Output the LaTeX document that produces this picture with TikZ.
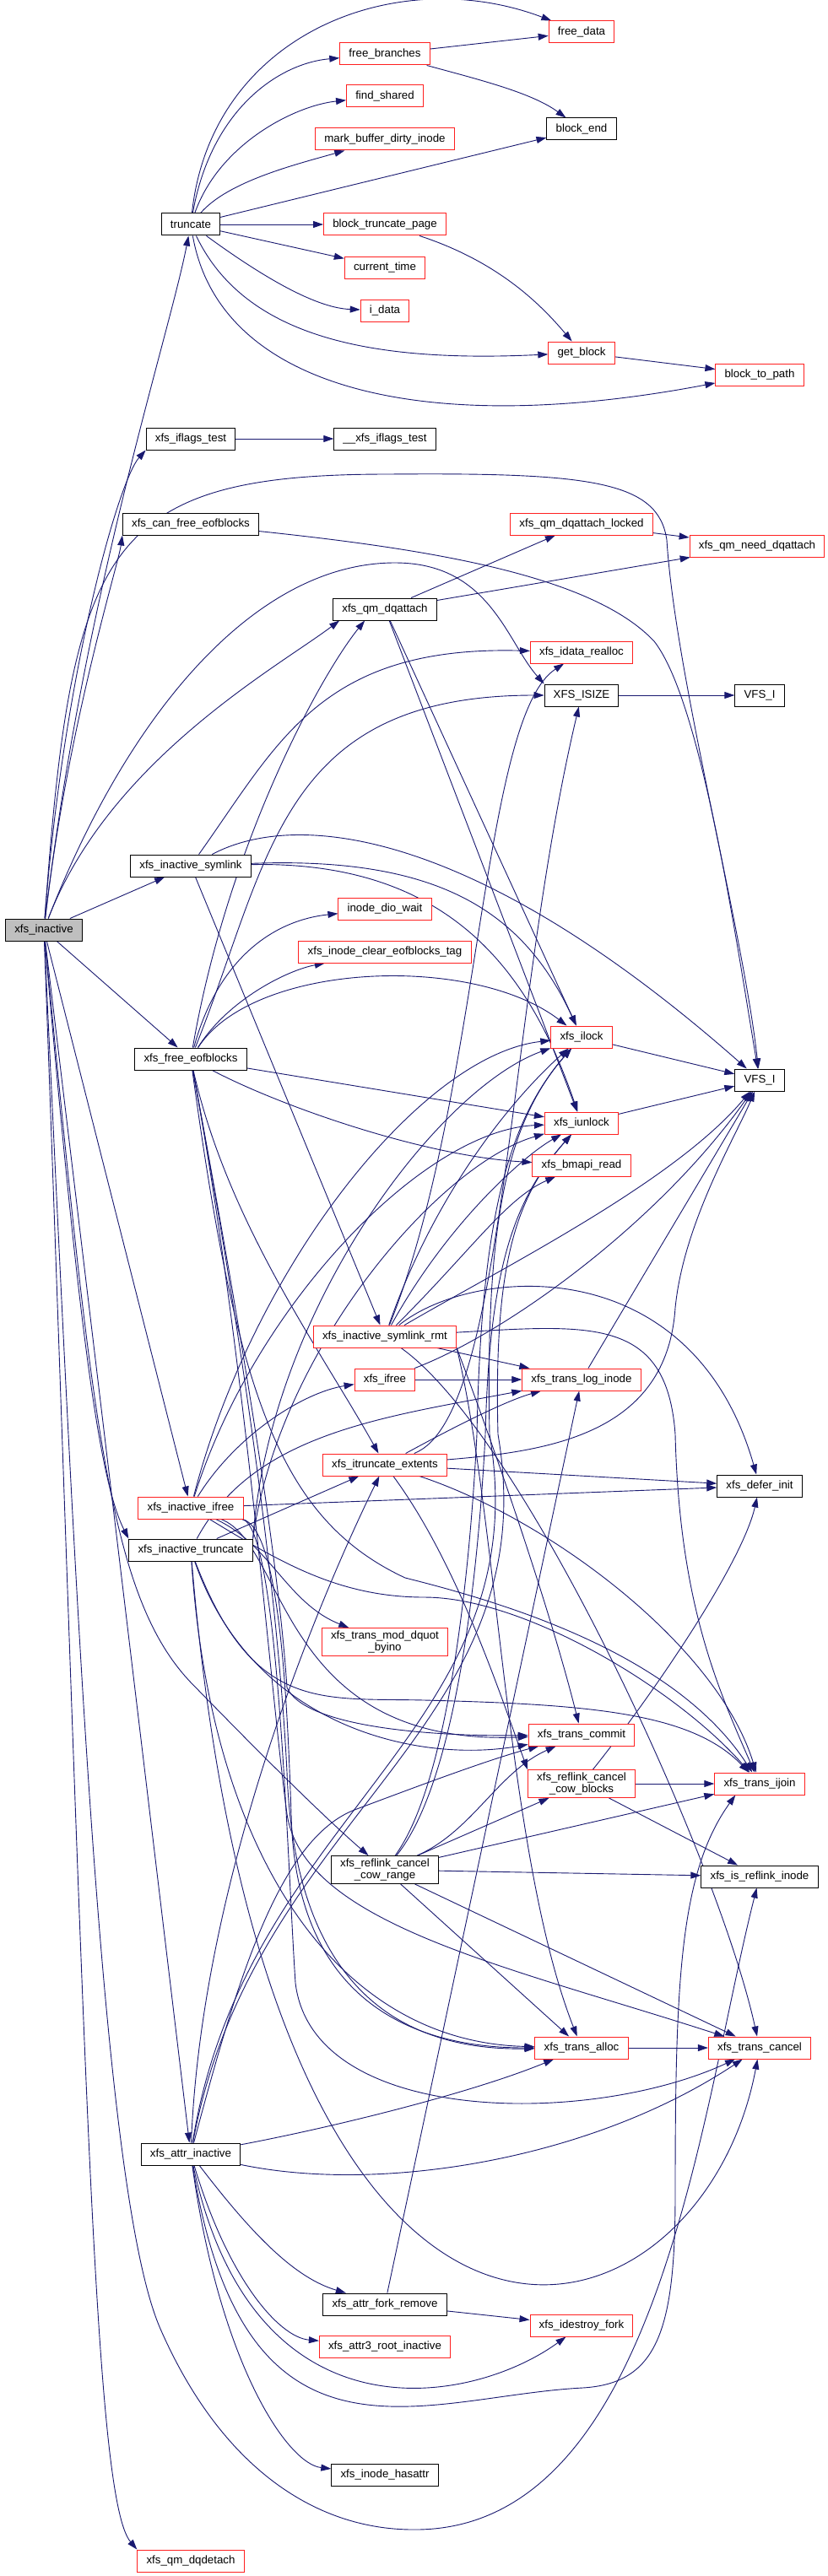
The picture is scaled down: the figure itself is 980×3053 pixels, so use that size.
\documentclass[tikz,border=0pt]{standalone}
\usepackage{fontspec}
\setmainfont{Liberation Sans}
\usetikzlibrary{arrows.meta}
\definecolor{doxEdge}{RGB}{25,25,112}
\definecolor{doxRed}{RGB}{255,32,32}
\definecolor{doxGray}{RGB}{191,191,191}
\pgfdeclarelayer{background}
\pgfsetlayers{background,main}

\begin{document}
\begin{tikzpicture}[
  x=1pt, y=-1pt,
  fn/.style={
    draw=black,
    fill=white,
    line width=1pt,
    rectangle,
    inner xsep=10.7pt,
    inner ysep=3pt,
    minimum height=26pt,
    align=center,
    font=\fontsize{13.3}{14.5}\selectfont
  },
  fnred/.style={fn,draw=doxRed},
  fnroot/.style={fn,fill=doxGray},
  call/.style={doxEdge,line width=0.9pt,-{Triangle[length=12pt,width=8pt]}}
]
  \useasboundingbox (0,0) rectangle (980,3053);

  % functions, column by column
  \node[fnroot] (inact) at (52,1102) {xfs\_inactive};

  \node[fn] (trunc) at (226,266) {truncate};
  \node[fn] (iflags) at (226,520) {xfs\_iflags\_test};
  \node[fn] (canfree) at (226,621) {xfs\_can\_free\_eofblocks};
  \node[fn] (symlink) at (226,1026) {xfs\_inactive\_symlink};
  \node[fn] (freeeof) at (226,1255) {xfs\_free\_eofblocks};
  \node[fnred] (inifree) at (226,1787) {xfs\_inactive\_ifree};
  \node[fn] (intrunc) at (226,1837) {xfs\_inactive\_truncate};
  \node[fn] (attrinact) at (226,2553) {xfs\_attr\_inactive};
  \node[fnred] (dqdetach) at (226,3035) {xfs\_qm\_dqdetach};

  \node[fnred] (freebr) at (456,64) {free\_branches};
  \node[fnred] (findsh) at (456,114) {find\_shared};
  \node[fnred] (markbuf) at (456,165) {mark\_buffer\_dirty\_inode};
  \node[fnred] (btpage) at (456,266) {block\_truncate\_page};
  \node[fnred] (curtime) at (456,317) {current\_time};
  \node[fnred] (idata) at (456,368) {i\_data};
  \node[fn] (uiflags) at (456,520) {\_\_xfs\_iflags\_test};
  \node[fn] (dqattach) at (456,722) {xfs\_qm\_dqattach};
  \node[fnred] (diowait) at (456,1077) {inode\_dio\_wait};
  \node[fnred] (cleartag) at (456,1128) {xfs\_inode\_clear\_eofblocks\_tag};
  \node[fnred] (rmt) at (456,1584) {xfs\_inactive\_symlink\_rmt};
  \node[fnred] (ifree) at (456,1635) {xfs\_ifree};
  \node[fnred] (itrunc) at (456,1736) {xfs\_itruncate\_extents};
  \node[fnred] (moddquot) at (456,1946) {xfs\_trans\_mod\_dquot\\\_byino};
  \node[fn] (cowrange) at (456,2216) {xfs\_reflink\_cancel\\\_cow\_range};
  \node[fn] (forkremove) at (456,2731) {xfs\_attr\_fork\_remove};
  \node[fnred] (rootinact) at (456,2781) {xfs\_attr3\_root\_inactive};
  \node[fn] (hasattr) at (456,2933) {xfs\_inode\_hasattr};

  \node[fnred] (freedata) at (689,38) {free\_data};
  \node[fn] (blockend) at (689,153) {block\_end};
  \node[fnred] (getblock) at (689,418) {get\_block};
  \node[fnred] (dqlocked) at (689,621) {xfs\_qm\_dqattach\_locked};
  \node[fnred] (idatarealloc) at (689,773) {xfs\_idata\_realloc};
  \node[fn] (isize) at (689,824) {XFS\_ISIZE};
  \node[fnred] (ilock) at (689,1229) {xfs\_ilock};
  \node[fnred] (iunlock) at (689,1331) {xfs\_iunlock};
  \node[fnred] (bmapi) at (689,1381) {xfs\_bmapi\_read};
  \node[fnred] (tlog) at (689,1635) {xfs\_trans\_log\_inode};
  \node[fnred] (tcommit) at (689,2056) {xfs\_trans\_commit};
  \node[fnred] (cowblocks) at (689,2114) {xfs\_reflink\_cancel\\\_cow\_blocks};
  \node[fnred] (talloc) at (689,2427) {xfs\_trans\_alloc};
  \node[fnred] (idestroy) at (689,2756) {xfs\_idestroy\_fork};

  \node[fnred] (btpath) at (900,444) {block\_to\_path};
  \node[fnred] (needdq) at (897,647) {xfs\_qm\_need\_dqattach};
  \node[fn] (vfsa) at (900,824) {VFS\_I};
  \node[fn] (vfsb) at (900,1280) {VFS\_I};
  \node[fn] (deferinit) at (900,1761) {xfs\_defer\_init};
  \node[fnred] (tijoin) at (900,2114) {xfs\_trans\_ijoin};
  \node[fn] (isreflink) at (900,2224) {xfs\_is\_reflink\_inode};
  \node[fnred] (tcancel) at (900,2427) {xfs\_trans\_cancel};

  \begin{pgfonlayer}{background}
  \fill[white] (0,0) rectangle (980,3053);
  % xfs_inactive
  \draw[call] (inact) .. controls (100,700) and (200,400) .. (trunc);
  \draw[call] (inact) .. controls (75,800) and (140,570) .. (iflags.south west);
  \draw[call] (inact) .. controls (80,860) and (140,670) .. (canfree.south west);
  \draw[call] (inact) .. controls (85,650) and (120,562) .. (460,562) .. controls (700,560) and (780,570) .. (790,640) .. controls (800,800) and (880,1100) .. (vfsb);
  \draw[call] (inact) .. controls (150,850) and (300,667) .. (468,667) .. controls (580,667) and (600,760) .. (isize.north west);
  \draw[call] (inact) .. controls (130,900) and (330,790) .. ([xshift=8pt]dqattach.south west);
  \draw[call] (inact) -- (symlink);
  \draw[call] (inact) -- (freeeof);
  \draw[call] (inact) -- (inifree);
  \draw[call] (inact) .. controls (95,1600) and (120,1760) .. (intrunc.north west);
  \draw[call] (inact) .. controls (110,1700) and (130,1900) .. (232,2000) .. controls (300,2070) and (380,2150) .. (cowrange);
  \draw[call] (inact) .. controls (90,1900) and (120,2600) .. (190,2760) .. controls (260,2920) and (370,2998) .. (490,2998) .. controls (780,3000) and (830,2500) .. (isreflink);
  \draw[call] (inact) -- (attrinact);
  \draw[call] (inact) .. controls (100,2400) and (110,2960) .. (dqdetach.north west);

  % truncate
  \draw[call] (trunc) .. controls (250,40) and (470,-45) .. (freedata);
  \draw[call] (trunc) .. controls (250,130) and (330,75) .. (freebr);
  \draw[call] (trunc) .. controls (260,170) and (350,125) .. (findsh);
  \draw[call] (trunc) .. controls (270,215) and (350,195) .. (markbuf);
  \draw[call] (trunc) -- (blockend);
  \draw[call] (trunc) -- (btpage);
  \draw[call] (trunc) -- (curtime);
  \draw[call] (trunc) .. controls (300,320) and (370,365) .. (idata);
  \draw[call] (trunc) .. controls (290,400) and (440,430) .. (getblock);
  \draw[call] (trunc) .. controls (260,460) and (500,520) .. (btpath);
  \draw[call] (freebr) -- (freedata);
  \draw[call] (freebr) .. controls (570,95) and (630,110) .. (blockend);
  \draw[call] (btpage) .. controls (590,310) and (640,360) .. (getblock);
  \draw[call] (getblock) -- (btpath);
  \draw[call] (iflags) -- (uiflags);
  \draw[call] (canfree) .. controls (500,650) and (700,680) .. (775,760) .. controls (830,830) and (870,1100) .. (vfsb);

  % quota and locking
  \draw[call] (dqattach) -- (dqlocked);
  \draw[call] (dqattach) -- (needdq);
  \draw[call] (dqlocked) -- (needdq);
  \draw[call] (dqattach) -- (ilock);
  \draw[call] (dqattach) -- (iunlock);
  \draw[call] (isize) -- (vfsa);
  \draw[call] (ilock) -- (vfsb);
  \draw[call] (iunlock) -- (vfsb);

  % xfs_inactive_symlink
  \draw[call] (symlink) .. controls (520,1015) and (620,1080) .. (ilock);
  \draw[call] (symlink) .. controls (540,1020) and (630,1160) .. (iunlock);
  \draw[call] (symlink) .. controls (330,880) and (380,765) .. (idatarealloc);
  \draw[call] (symlink) -- (rmt);
  \draw[call] (symlink) .. controls (350,960) and (560,980) .. (vfsb);

  % xfs_free_eofblocks
  \draw[call] (freeeof) .. controls (260,1130) and (330,1090) .. (diowait);
  \draw[call] (freeeof) .. controls (270,1185) and (340,1150) .. (cleartag);
  \draw[call] (freeeof) .. controls (300,1140) and (560,1130) .. (ilock);
  \draw[call] (freeeof) -- (iunlock);
  \draw[call] (freeeof) .. controls (330,1310) and (500,1370) .. (bmapi);
  \draw[call] (freeeof) .. controls (320,1020) and (330,824) .. (isize);
  \draw[call] (freeeof) .. controls (270,1000) and (380,800) .. ([xshift=38pt]dqattach.south west);
  \draw[call] (freeeof) .. controls (270,1450) and (380,1600) .. (itrunc);
  \draw[call] (freeeof) .. controls (290,1600) and (330,1850) .. (340,2000) .. controls (360,2045) and (500,2058) .. (tcommit);
  \draw[call] (freeeof) .. controls (290,1600) and (330,1900) .. (340,2100) .. controls (350,2380) and (500,2430) .. (talloc);
  \draw[call] (freeeof) .. controls (280,1650) and (330,1800) .. (480,1870) .. controls (600,1900) and (800,1960) .. (tijoin);
  \draw[call] (freeeof) .. controls (290,1600) and (320,2000) .. (340,2150) .. controls (360,2280) and (600,2330) .. (tcancel);

  % xfs_inactive_symlink_rmt
  \draw[call] (rmt) .. controls (570,1300) and (570,850) .. (idatarealloc);
  \draw[call] (rmt) .. controls (520,1400) and (620,1290) .. (ilock);
  \draw[call] (rmt) .. controls (530,1450) and (620,1370) .. (iunlock);
  \draw[call] (rmt) .. controls (560,1480) and (600,1420) .. (bmapi);
  \draw[call] (rmt) .. controls (600,1500) and (800,1400) .. (vfsb);
  \draw[call] (rmt) -- (tlog);
  \draw[call] (rmt) .. controls (560,1500) and (820,1480) .. (deferinit);
  \draw[call] (rmt.south east) .. controls (590,1800) and (600,2200) .. (talloc);
  \draw[call] (rmt) .. controls (700,1570) and (790,1560) .. (800,1700) .. controls (805,1900) and (850,2000) .. (tijoin);
  \draw[call] (rmt.south east) .. controls (580,1700) and (650,1900) .. (tcommit);
  \draw[call] (rmt) .. controls (620,1700) and (850,2200) .. (tcancel);

  % xfs_ifree, xfs_trans_log_inode
  \draw[call] (ifree) -- (tlog);
  \draw[call] (ifree) .. controls (600,1580) and (780,1450) .. (vfsb);
  \draw[call] (tlog) -- (vfsb);

  % xfs_itruncate_extents
  \draw[call] (itrunc) .. controls (540,1690) and (600,1660) .. (tlog);
  \draw[call] (itrunc) -- (deferinit);
  \draw[call] (itrunc) .. controls (600,1680) and (600,1200) .. (isize);
  \draw[call] (itrunc) .. controls (650,1720) and (790,1700) .. (800,1550) .. controls (810,1450) and (870,1350) .. (vfsb);
  \draw[call] (itrunc) .. controls (650,1800) and (850,1950) .. (tijoin);
  \draw[call] (itrunc) .. controls (540,1850) and (590,2000) .. (cowblocks.north west);

  % xfs_inactive_ifree
  \draw[call] (inifree) .. controls (280,1700) and (360,1650) .. (ifree);
  \draw[call] (inifree) -- (deferinit);
  \draw[call] (inifree) .. controls (320,1830) and (340,1900) .. (moddquot);
  \draw[call] (inifree) .. controls (330,1810) and (340,2000) .. (345,2150) .. controls (350,2380) and (500,2427) .. (talloc);
  \draw[call] (inifree) .. controls (300,1500) and (500,1250) .. (ilock);
  \draw[call] (inifree) .. controls (300,1550) and (500,1340) .. (iunlock);
  \draw[call] (inifree) .. controls (330,1850) and (400,1893) .. (503,1893) .. controls (620,1893) and (800,2000) .. (tijoin);
  \draw[call] (inifree) .. controls (330,1810) and (340,2200) .. (350,2350) .. controls (370,2520) and (700,2520) .. (tcancel);
  \draw[call] (inifree) .. controls (340,1830) and (330,2070) .. (tcommit);

  % xfs_inactive_truncate
  \draw[call] (intrunc) -- (itrunc);
  \draw[call] (intrunc) .. controls (300,1700) and (450,1680) .. (tlog);
  \draw[call] (intrunc) .. controls (250,2200) and (400,2420) .. (talloc);
  \draw[call] (intrunc.north east) .. controls (320,1550) and (520,1290) .. (ilock);
  \draw[call] (intrunc.north east) .. controls (330,1600) and (520,1380) .. (iunlock);
  \draw[call] (intrunc) .. controls (300,2030) and (380,2012) .. (503,2015) .. controls (700,2020) and (820,2030) .. (tijoin);
  \draw[call] (intrunc) .. controls (300,2050) and (500,2090) .. (tcommit);
  \draw[call] (intrunc) .. controls (320,2950) and (830,2800) .. (tcancel);

  % reflink
  \draw[call] (cowrange) -- (cowblocks);
  \draw[call] (cowrange) -- (tijoin);
  \draw[call] (cowrange) -- (isreflink);
  \draw[call] (cowrange) .. controls (560,2170) and (590,2100) .. (tcommit);
  \draw[call] (cowrange) .. controls (540,2100) and (560,1800) .. (565,1700) .. controls (570,1450) and (600,1330) .. (ilock);
  \draw[call] (cowrange) .. controls (550,2100) and (570,1800) .. (575,1700) .. controls (580,1500) and (610,1420) .. (iunlock);
  \draw[call] (cowrange) -- (talloc);
  \draw[call] (cowrange) -- (tcancel);
  \draw[call] (cowblocks) -- (tijoin);
  \draw[call] (cowblocks) -- (isreflink);
  \draw[call] (cowblocks) .. controls (780,2000) and (880,1850) .. (deferinit);
  \draw[call] (talloc) -- (tcancel);

  % xfs_attr_inactive
  \draw[call] (attrinact) .. controls (300,2650) and (350,2700) .. (forkremove);
  \draw[call] (attrinact) .. controls (270,2700) and (330,2770) .. (rootinact);
  \draw[call] (attrinact) .. controls (260,2800) and (340,2920) .. (hasattr);
  \draw[call] (attrinact) .. controls (300,2900) and (560,2850) .. (idestroy);
  \draw[call] (attrinact) .. controls (290,2950) and (500,2840) .. (690,2830) .. controls (780,2825) and (800,2760) .. (800,2600) .. controls (800,2350) and (805,2220) .. ([xshift=25pt]tijoin.south west);
  \draw[call] (attrinact) .. controls (450,2600) and (700,2560) .. (tcancel);
  \draw[call] (attrinact) .. controls (400,2520) and (560,2480) .. (talloc);
  \draw[call] (attrinact) .. controls (240,2200) and (400,1850) .. (itrunc);
  \draw[call] (attrinact) .. controls (290,2150) and (640,2050) .. (580,1700) .. controls (575,1450) and (600,1330) .. (ilock);
  \draw[call] (attrinact) .. controls (300,2150) and (650,2050) .. (590,1700) .. controls (585,1500) and (610,1420) .. (iunlock);
  \draw[call] (attrinact) .. controls (280,2350) and (330,2180) .. (420,2145) .. controls (500,2115) and (580,2085) .. (tcommit);
  \draw[call] (forkremove) -- (idestroy);
  \draw[call] (forkremove) -- (tlog);
  \end{pgfonlayer}
\end{tikzpicture}
\end{document}
